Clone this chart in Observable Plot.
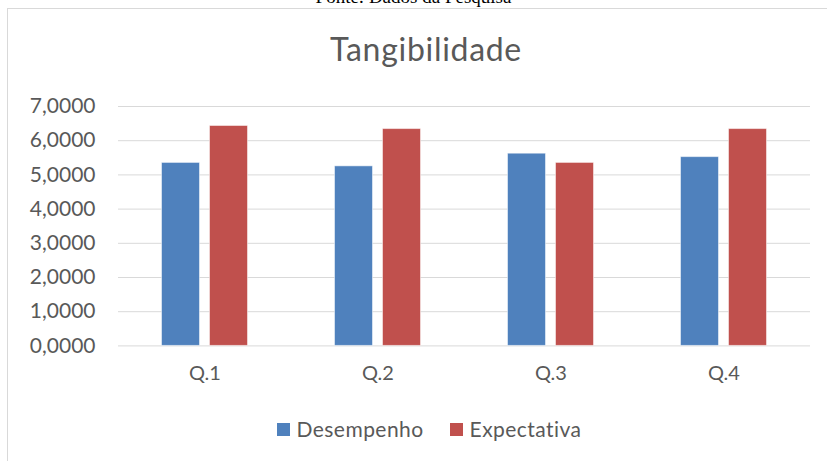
<!DOCTYPE html>
<html>
<head>
<meta charset="utf-8">
<script src="https://cdn.jsdelivr.net/npm/d3@7"></script>
<script src="https://cdn.jsdelivr.net/npm/@observablehq/plot@0.6"></script>
<style>
  html, body { margin: 0; padding: 0; background: #fff; width: 827px; height: 461px; overflow: hidden; }
  #wrap { position: relative; width: 827px; height: 461px; font-family: Lato, "Open Sans", sans-serif; color: #595959; }
  #source { position: absolute; left: 0; width: 827px; top: -14px; text-align: center; font-family: "Liberation Serif", "Times New Roman", serif; font-size: 19px; line-height: 22px; color: #000; }
  #frame { position: absolute; left: 7px; top: 8px; width: 830px; height: 470px; border: 1px solid #d9d9d9; box-sizing: border-box; }
  #title { position: absolute; left: 0; width: 852px; top: 29px; text-align: center; font-size: 32px; letter-spacing: 0.7px; line-height: 40px; color: #595959; }
  #chart { position: absolute; left: 0; top: 90px; }
  #legend { position: absolute; left: 0; width: 858px; top: 416px; display: flex; justify-content: center; align-items: center; font-size: 21px; letter-spacing: 0.45px; line-height: 26px; color: #595959; }
  .item { display: flex; align-items: center; margin: 0 13px; }
  .sw { width: 13px; height: 13px; margin-right: 7px; }
</style>
</head>
<body>
<div id="wrap">
  <div id="source">Fonte: Dados da Pesquisa</div>
  <div id="frame"></div>
  <div id="title">Tangibilidade</div>
  <div id="chart"></div>
  <div id="legend"></div>
</div>
<script>
const categories = ["Q.1", "Q.2", "Q.3", "Q.4"];
const seriesNames = ["Desempenho", "Expectativa"];
const desempenho = [5.35, 5.25, 5.62, 5.52];
const expectativa = [6.43, 6.34, 5.35, 6.34];
const yTicks = [0, 1, 2, 3, 4, 5, 6, 7];
const colors = ["#4F81BD", "#C0504D"];

const data = [];
categories.forEach((c, i) => {
  data.push({q: c, serie: seriesNames[0], v: desempenho[i]});
  data.push({q: c, serie: seriesNames[1], v: expectativa[i]});
});

const fmt = d => d.toFixed(4).replace(".", ",");

const plot = Plot.plot({
  width: 827,
  height: 300,
  marginLeft: 117.5,
  marginRight: 17.5,
  marginTop: 16,
  marginBottom: 44.6,
  style: { fontFamily: "Lato, 'Open Sans', sans-serif", fontSize: "20px", color: "#595959", background: "transparent" },
  fx: { domain: categories, padding: 0, label: null, axis: "bottom", tickSize: 0, tickPadding: 20 },
  x: { domain: seriesNames, paddingInner: 0.206, paddingOuter: 0.887, axis: null },
  y: { domain: [0, 7], ticks: yTicks, tickFormat: fmt, label: null, axis: null },
  color: { domain: seriesNames, range: colors },
  marks: [
    Plot.ruleY(yTicks, { stroke: "#d9d9d9", strokeWidth: 1 }),
    Plot.axisY({ ticks: yTicks, tickFormat: fmt, tickSize: 0, tickPadding: 23, label: null, facetAnchor: "left", fontSize: 21 }),
    Plot.barY(data, { fx: "q", x: "serie", y: "v", fill: "serie", stroke: "#ffffff", strokeOpacity: 0.5, strokeWidth: 1 })
  ]
});
document.getElementById("chart").appendChild(plot);

const legend = document.getElementById("legend");
seriesNames.forEach((s, i) => {
  const item = document.createElement("div");
  item.className = "item";
  const sw = document.createElement("span");
  sw.className = "sw";
  sw.style.background = colors[i];
  const t = document.createElement("span");
  t.textContent = s;
  item.appendChild(sw);
  item.appendChild(t);
  legend.appendChild(item);
});
</script>
</body>
</html>
